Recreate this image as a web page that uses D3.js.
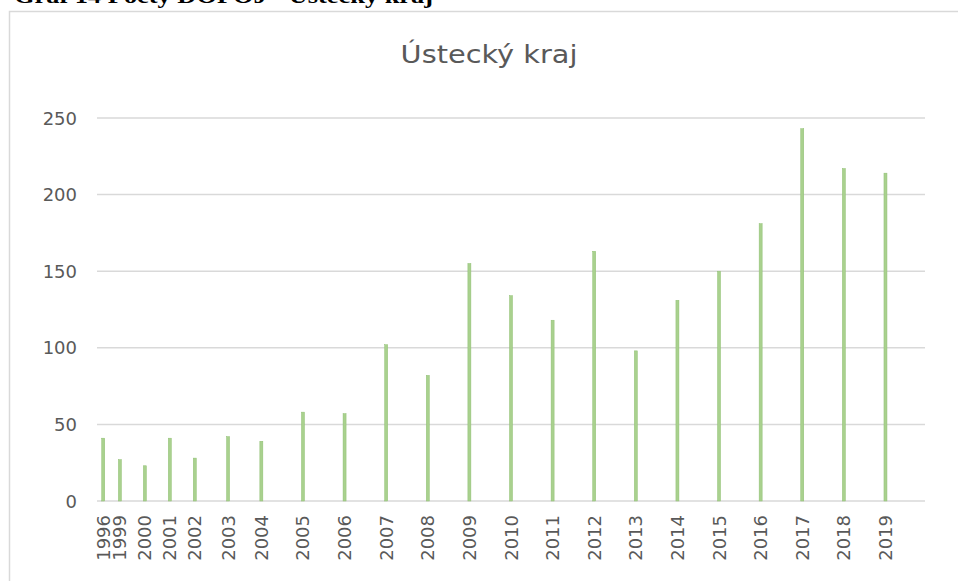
<!DOCTYPE html>
<html lang="cs">
<head>
<meta charset="UTF-8">
<title>Ústecký kraj</title>
<style>
    body { margin: 0; padding: 0; background: #fff; }
    svg { display: block; }
    .tick-label { font-family: "DejaVu Sans", sans-serif; font-size: 18px; fill: #595959; }
    .chart-title { font-family: "DejaVu Sans", sans-serif; font-size: 24px; fill: #595959; }
    .caption { font-family: "Liberation Serif", serif; font-weight: bold; font-size: 22px; fill: #000; }
</style>
</head>
<body>
<svg id="chart"></svg>
<script src="https://d3js.org/d3.v7.min.js"></script>
<script>
    const width = 958;
    const height = 581;

    // years on the category axis
    const years = ["1996", "1999", "2000", "2001", "2002", "2003", "2004", "2005", "2006", "2007", "2008",
        "2009", "2010", "2011", "2012", "2013", "2014", "2015", "2016", "2017", "2018", "2019"];
    // slot of each year on the axis (the original axis is not evenly spaced)
    const slots = [0, 2, 5, 8, 11, 15, 19, 24, 29, 34, 39, 44, 49, 54, 59, 64, 69, 74, 79, 84, 89, 94];
    // number of DOPOJ per year
    const counts = [41, 27, 23, 41, 28, 42, 39, 58, 57, 102, 82, 155, 134, 118, 163, 98, 131, 150, 181, 243, 217, 214];
    const yTicks = [0, 50, 100, 150, 200, 250];

    const svg = d3.select("#chart").attr("width", width).attr("height", height);

    // caption above the chart, cut off by the top edge
    svg.append("text")
        .attr("class", "caption")
        .attr("transform", "translate(14,3) scale(1.2,1)")
        .text("Graf 14 Počty DOPOJ - Ústecký kraj");

    // chart frame (only left and top edges are visible)
    svg.append("rect")
        .attr("x", 9.5).attr("y", 11.5)
        .attr("width", 1000).attr("height", 700)
        .attr("fill", "none")
        .attr("stroke", "#d9d9d9")
        .attr("stroke-width", 1.5);

    const plot = { left: 97, right: 925, top: 118, bottom: 501 };

    const x = d3.scaleLinear().domain([-0.75, 98.75]).range([plot.left, plot.right]);
    const y = d3.scaleLinear().domain([0, 250]).range([plot.bottom, plot.top]);

    // title
    svg.append("text")
        .attr("class", "chart-title")
        .attr("text-anchor", "middle")
        .attr("transform", "translate(489,63) scale(1.2,1)")
        .text("Ústecký kraj");

    // gridlines
    svg.append("g")
        .selectAll("line")
        .data(yTicks)
        .join("line")
        .attr("x1", plot.left).attr("x2", plot.right)
        .attr("y1", d => y(d)).attr("y2", d => y(d))
        .attr("stroke", "#d9d9d9")
        .attr("stroke-width", 1.5);

    // y labels
    svg.append("g")
        .selectAll("text")
        .data(yTicks)
        .join("text")
        .attr("class", "tick-label")
        .attr("text-anchor", "end")
        .attr("x", 77)
        .attr("y", d => y(d) + 6.5)
        .text(d => d);

    // bars
    const barW = 3;
    svg.append("g")
        .selectAll("rect")
        .data(counts)
        .join("rect")
        .attr("x", (d, i) => x(slots[i]) - barW / 2)
        .attr("y", d => y(d))
        .attr("width", barW)
        .attr("height", d => y(0) - y(d))
        .attr("fill", "#a9d18e")
        .attr("stroke", "#8fbf72")
        .attr("stroke-width", 0.5);

    // x labels, rotated
    svg.append("g")
        .selectAll("text")
        .data(years)
        .join("text")
        .attr("class", "tick-label")
        .attr("text-anchor", "end")
        .attr("transform", (d, i) => `translate(${x(slots[i]) + 6.5},${plot.bottom + 14}) rotate(-90)`)
        .text(d => d);
</script>
</body>
</html>
